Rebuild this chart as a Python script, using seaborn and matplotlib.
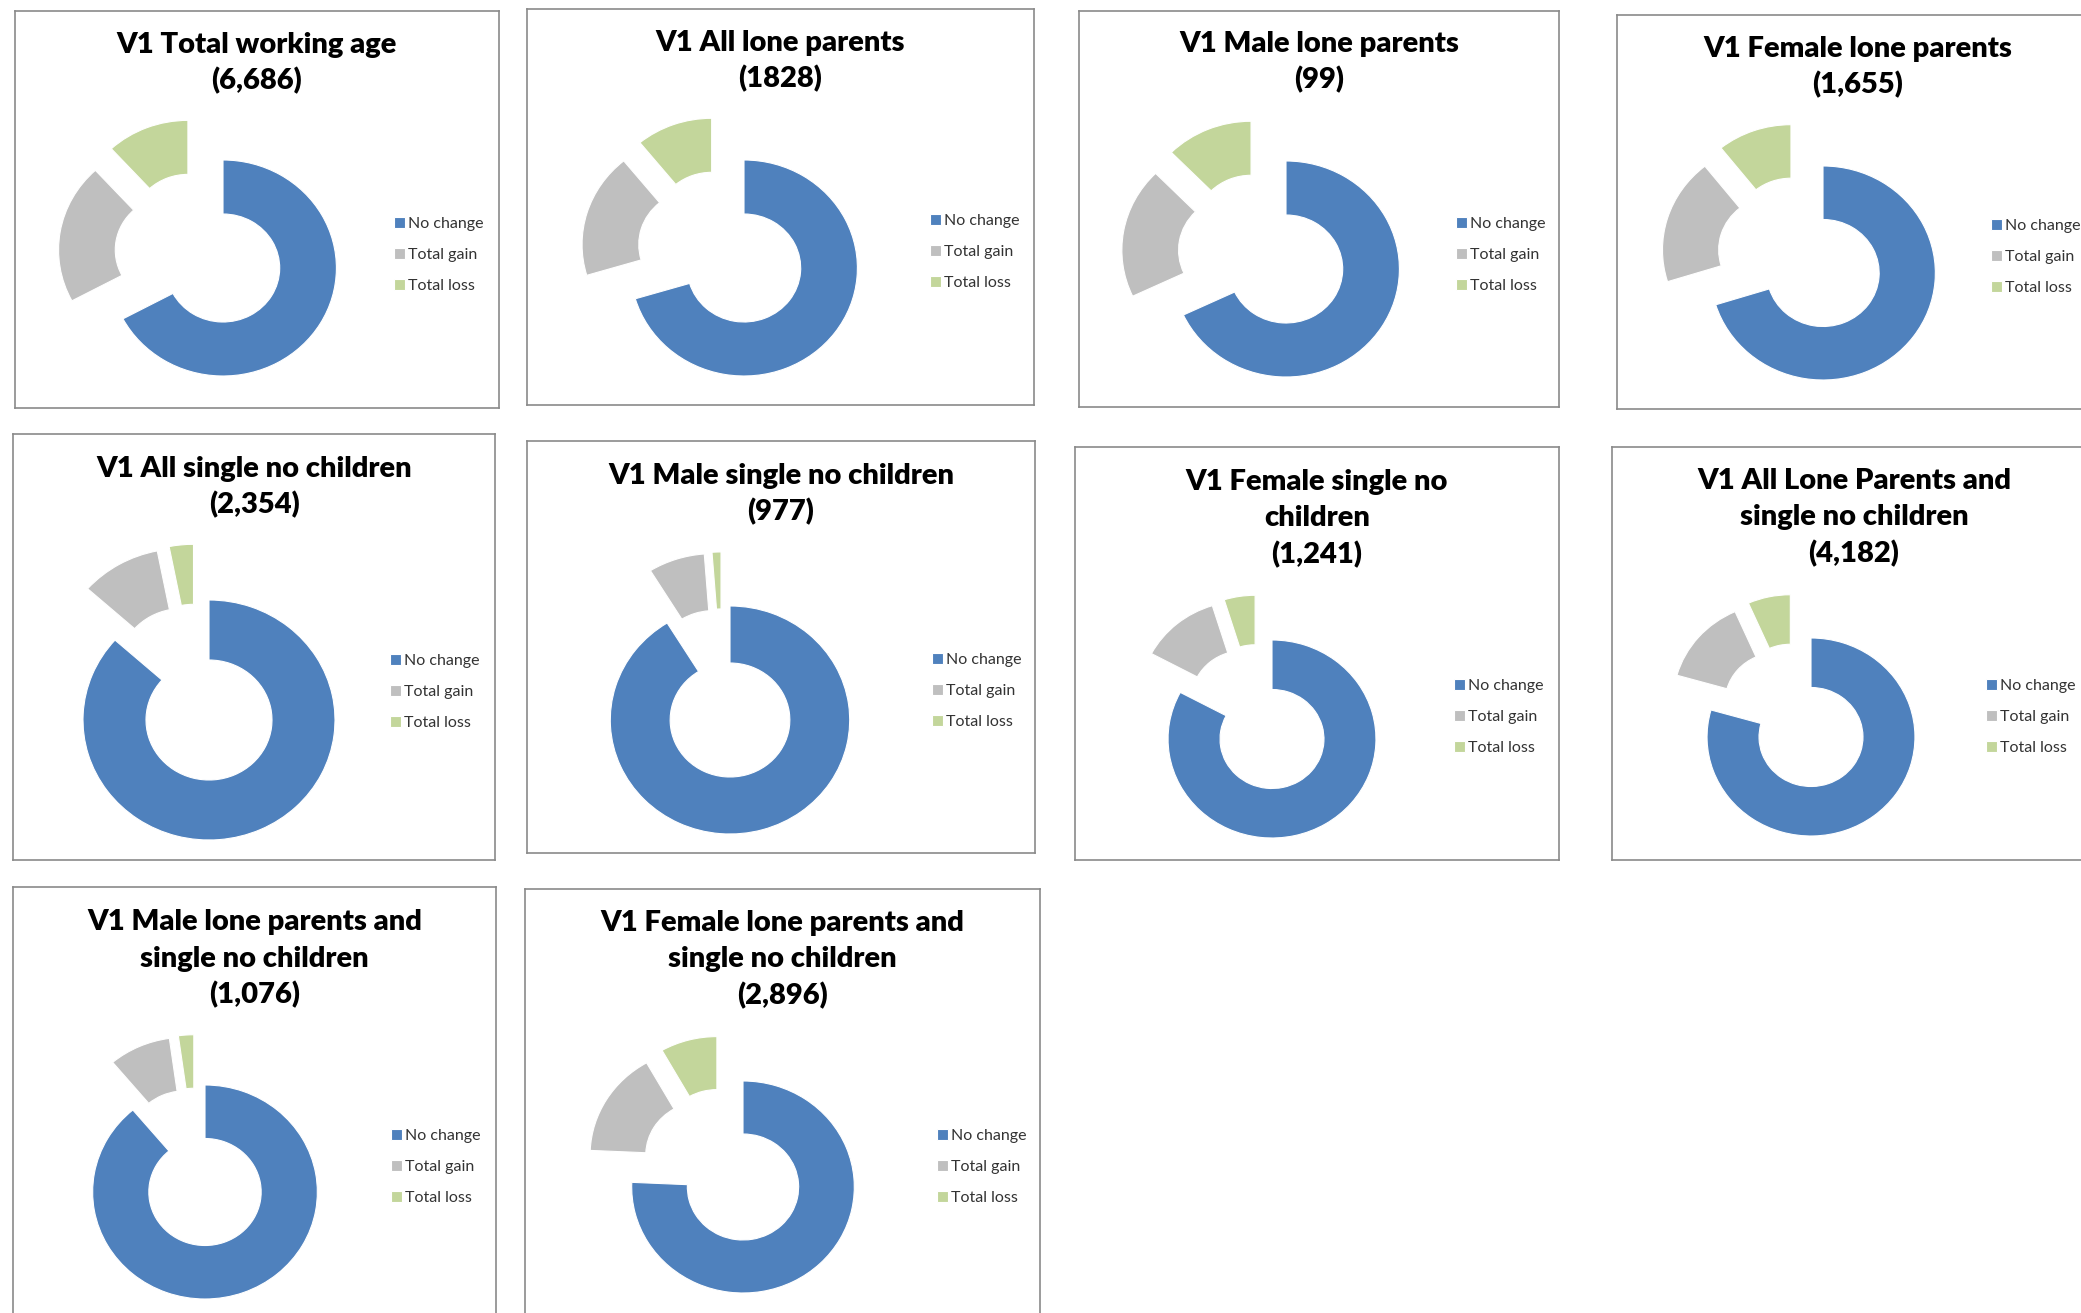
import numpy as np
import matplotlib
matplotlib.use("Agg")
import matplotlib.pyplot as plt
import seaborn as sns

# --- data (shares in %) ---
titles = [
    "V1 Total working age\n(6,686)",
    "V1 All lone parents\n(1828)",
    "V1 Male lone parents\n(99)",
    "V1 Female lone parents\n(1,655)",
    "V1 All single no children\n(2,354)",
    "V1 Male single no children\n(977)",
    "V1 Female single no\nchildren\n(1,241)",
    "V1 All Lone Parents and\nsingle no children\n(4,182)",
    "V1 Male lone parents and\nsingle no children\n(1,076)",
    "V1 Female lone parents and\nsingle no children\n(2,896)",
]
categories = ["No change", "Total gain", "Total loss"]
no_change = [67.2, 70.4, 68.0, 70.2, 86.6, 91.2, 82.8, 79.4, 88.9, 75.7]
total_gain = [21.0, 18.7, 19.6, 19.1, 10.3, 7.6, 12.4, 14.0, 8.9, 16.1]
total_loss = [11.8, 10.9, 12.4, 10.7, 3.1, 1.2, 4.8, 6.6, 2.2, 8.2]

colors = ["#4F81BD", "#BFBFBF", "#C3D69B"]

# --- layout, in pixels of the 2081x1313 picture ---
W, H = 2081, 1313
boxes = [(15, 11, 499, 408), (527, 9, 1034, 405), (1079, 11, 1559, 407), (1617, 15, 2099, 409),
         (13, 434, 495, 860), (527, 441, 1035, 853), (1075, 447, 1559, 860), (1612, 447, 2096, 860),
         (13, 887, 496, 1330), (525, 889, 1040, 1330)]
title_base = [53, 51, 52, 57, 477, 484, 490, 489, 930, 931]
donuts = [(223, 268, 108), (744, 268, 108), (1286, 269, 108), (1823, 273, 107),
          (209, 720, 120), (730, 720, 114), (1272, 739, 99), (1811, 737, 99),
          (205, 1192, 107), (743, 1187, 106)]
legends = [(394, 255), (930, 252), (1456, 255), (1991, 257),
           (390, 692), (932, 691), (1454, 717), (1986, 717),
           (391, 1167), (937, 1167)]
pull = 0.48

sns.set_theme(style="white")
plt.rcParams["font.family"] = ["Lato", "DejaVu Sans"]

fig = plt.figure(figsize=(W / 100, H / 100), dpi=100)
fig.patch.set_facecolor("white")


def fx(x):
    return x / W


def fy(y):
    return 1 - y / H


for i in range(len(titles)):
    l, t, r, b = boxes[i]
    box = fig.add_axes([fx(l), fy(b), (r - l) / W, (b - t) / H])
    box.set_xticks([])
    box.set_yticks([])
    box.set_facecolor("white")
    for s in box.spines.values():
        s.set_color("#8a8a8a")
        s.set_linewidth(1.2)

    cx = (l + r) / 2
    for j, line in enumerate(titles[i].split("\n")):
        fig.text(fx(cx), fy(title_base[i] + j * 36.5), line, ha="center", va="baseline",
                 fontsize=21, fontweight="heavy", color="black")

    # donut axes (picture is ~5% stretched horizontally)
    dx, dy, rad = donuts[i]
    L = 1.7 * rad
    ax = fig.add_axes([fx(dx - 1.05 * L), fy(dy + L), 2.1 * L / W, 2 * L / H])
    vals = [no_change[i], total_gain[i], total_loss[i]]
    wedges, _ = ax.pie(vals, colors=colors, startangle=90, counterclock=False,
                       wedgeprops=dict(width=0.5, edgecolor="white", linewidth=0.8))
    # pull gain/loss slices out, Excel style
    lo = min(wedges[1].theta1, wedges[2].theta1)
    hi = max(wedges[1].theta2, wedges[2].theta2)
    mid_all = (lo + hi) / 2
    for w in wedges[1:]:
        ang = np.deg2rad(((w.theta1 + w.theta2) / 2 + mid_all) / 2)
        w.set_center((pull * np.cos(ang), pull * np.sin(ang)))
    ax.set_aspect("auto")
    ax.set_xlim(-1.7, 1.7)
    ax.set_ylim(-1.7, 1.7)
    ax.axis("off")

    lx, ly = legends[i]
    ax.legend(wedges, categories, loc="center left", bbox_to_anchor=(fx(lx), fy(ly)),
              bbox_transform=fig.transFigure, frameon=False, fontsize=11.5,
              handlelength=0.7, handleheight=0.7, handletextpad=0.15,
              labelspacing=1.05, borderpad=0, borderaxespad=0, labelcolor="#333333")

fig.savefig("out.png", dpi=100, facecolor="white")
